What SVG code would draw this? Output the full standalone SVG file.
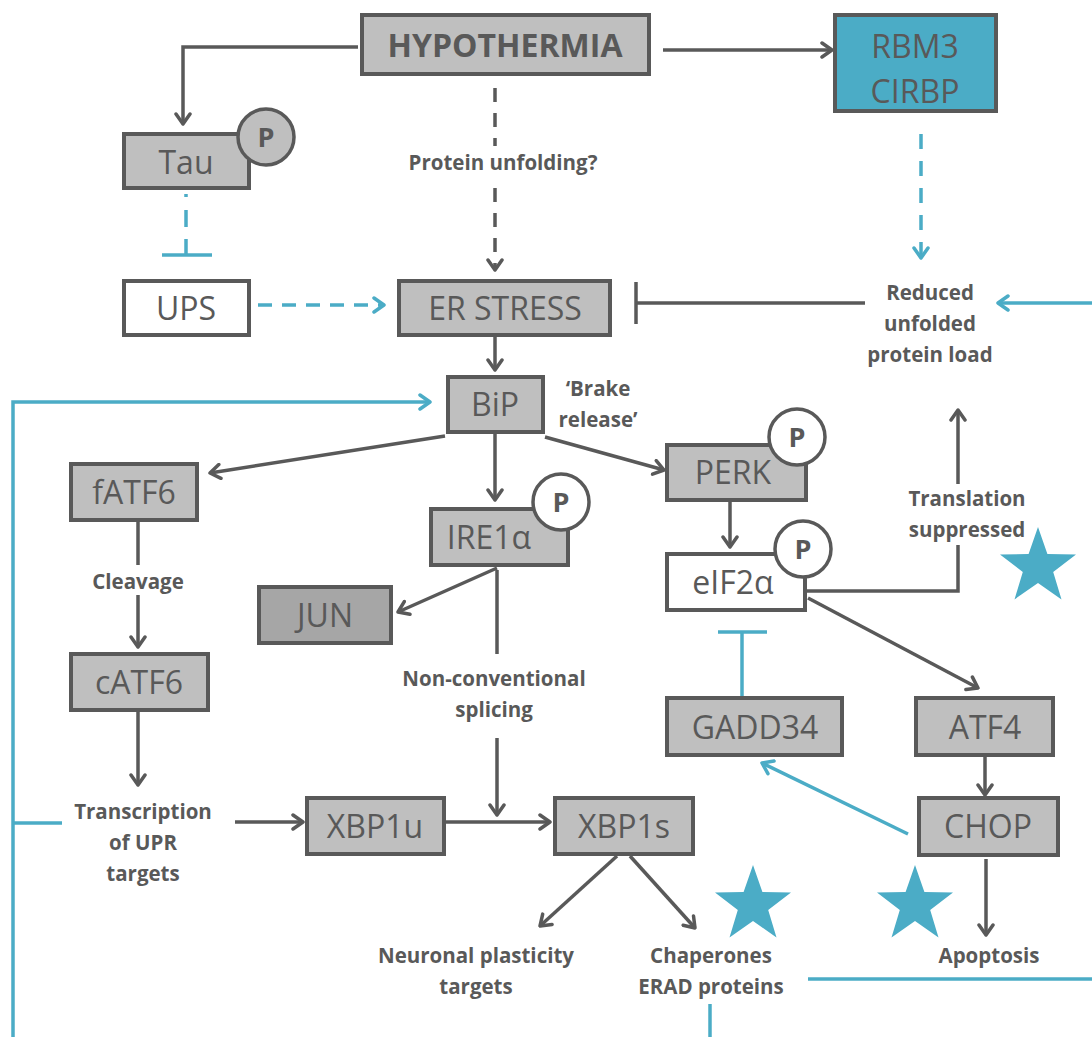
<svg xmlns="http://www.w3.org/2000/svg" width="1092" height="1037" viewBox="0 0 1092 1037">
  <defs>
    <style>
      .box{fill:#bfbfbf;stroke:#595959;stroke-width:4}
      .wbox{fill:#ffffff;stroke:#595959;stroke-width:4}
      .dbox{fill:#a6a6a6;stroke:#595959;stroke-width:4}
      .tbox{fill:#4bacc6;stroke:#595959;stroke-width:4}
      .pc{fill:#ffffff;stroke:#595959;stroke-width:3.5}
      .pcg{fill:#bfbfbf;stroke:#595959;stroke-width:3.5}
      .nt{font-family:"Open Sans","Noto Sans",sans-serif;font-size:32px;fill:#595959;text-anchor:middle}
      .bt{font-family:"Open Sans","Noto Sans",sans-serif;font-size:20.5px;font-weight:bold;fill:#595959;text-anchor:middle}
      .pt{font-family:"Open Sans","Noto Sans",sans-serif;font-size:27px;font-weight:bold;fill:#595959;text-anchor:middle}
      .g{fill:none;stroke:#595959;stroke-width:3.5}
      .c{fill:none;stroke:#4bacc6;stroke-width:3.5}
      .star{fill:#4bacc6}
    </style>
    <marker id="ag" viewBox="0 0 14 18" refX="12" refY="9" markerWidth="14" markerHeight="18" orient="auto" markerUnits="userSpaceOnUse">
      <path d="M2,2 L12,9 L2,16" fill="none" stroke="#595959" stroke-width="3.5" stroke-linecap="round" stroke-linejoin="round"/>
    </marker>
    <marker id="ac" viewBox="0 0 14 18" refX="12" refY="9" markerWidth="14" markerHeight="18" orient="auto" markerUnits="userSpaceOnUse">
      <path d="M2,2 L12,9 L2,16" fill="none" stroke="#4bacc6" stroke-width="3.5" stroke-linecap="round" stroke-linejoin="round"/>
    </marker>
    <polygon id="starShape" points="0,-40 9.4,-12.9 38,-12.4 15.2,4.9 23.5,32.4 0,16 -23.5,32.4 -15.2,4.9 -38,-12.4 -9.4,-12.9"/>
  </defs>

  <rect width="1092" height="1037" fill="#ffffff"/>

  <!-- connectors -->
  <g id="connectors">
    <!-- hypothermia branches -->
    <polyline class="g" points="358,47 183,47 183,124" marker-end="url(#ag)"/>
    <line class="g" x1="663" y1="50" x2="832" y2="50" marker-end="url(#ag)"/>
    <line class="g" x1="495" y1="88" x2="495" y2="270" stroke-dasharray="14 11" marker-end="url(#ag)"/>
    <line class="c" x1="921" y1="134" x2="921" y2="258" stroke-dasharray="15 12" marker-end="url(#ac)"/>
    <!-- tau inhibits UPS -->
    <line class="c" x1="186" y1="194" x2="186" y2="255" stroke-dasharray="3 13 17 12 20"/>
    <line class="c" x1="162" y1="255" x2="212" y2="255"/>
    <!-- UPS to ER stress -->
    <line class="c" x1="258" y1="305" x2="384" y2="305" stroke-dasharray="14 10" marker-end="url(#ac)"/>
    <!-- reduced load inhibits ER stress -->
    <line class="g" x1="865" y1="303" x2="636" y2="303"/>
    <line class="g" x1="636" y1="282" x2="636" y2="324"/>
    <line class="c" x1="1092" y1="303" x2="998" y2="303" marker-end="url(#ac)"/>
    <!-- ER stress to BiP -->
    <line class="g" x1="495" y1="337" x2="495" y2="370" marker-end="url(#ag)"/>
    <!-- feedback loop on left -->
    <polyline class="c" points="13,1037 13,402 430,402" marker-end="url(#ac)"/>
    <line class="c" x1="13" y1="823" x2="62" y2="823"/>
    <!-- BiP branches -->
    <line class="g" x1="445" y1="436" x2="210" y2="473" marker-end="url(#ag)"/>
    <line class="g" x1="495" y1="432" x2="495" y2="500" marker-end="url(#ag)"/>
    <line class="g" x1="545" y1="437" x2="664" y2="470" marker-end="url(#ag)"/>
    <!-- ATF6 arm -->
    <line class="g" x1="138" y1="521" x2="138" y2="565"/>
    <line class="g" x1="138" y1="595" x2="138" y2="647" marker-end="url(#ag)"/>
    <line class="g" x1="138" y1="711" x2="138" y2="785" marker-end="url(#ag)"/>
    <line class="g" x1="235" y1="822" x2="303" y2="822" marker-end="url(#ag)"/>
    <!-- IRE1 arm -->
    <line class="g" x1="497" y1="568" x2="398" y2="612" marker-end="url(#ag)"/>
    <line class="g" x1="497" y1="570" x2="497" y2="654"/>
    <line class="g" x1="497" y1="738" x2="497" y2="815" marker-end="url(#ag)"/>
    <line class="g" x1="446" y1="822" x2="550" y2="822" marker-end="url(#ag)"/>
    <line class="g" x1="617" y1="856" x2="540" y2="926" marker-end="url(#ag)"/>
    <line class="g" x1="630" y1="856" x2="695" y2="928" marker-end="url(#ag)"/>
    <!-- PERK arm -->
    <line class="g" x1="730" y1="501" x2="730" y2="547" marker-end="url(#ag)"/>
    <polyline class="g" points="807,591 958,591 958,545"/>
    <line class="g" x1="958" y1="484" x2="958" y2="410" marker-end="url(#ag)"/>
    <line class="g" x1="808" y1="598" x2="978" y2="688" marker-end="url(#ag)"/>
    <line class="g" x1="985" y1="756" x2="985" y2="795" marker-end="url(#ag)"/>
    <line class="g" x1="986" y1="859" x2="986" y2="935" marker-end="url(#ag)"/>
    <line class="c" x1="742" y1="697" x2="742" y2="632"/>
    <line class="c" x1="718" y1="632" x2="767" y2="632"/>
    <line class="c" x1="908" y1="834" x2="762" y2="763" marker-end="url(#ac)"/>
    <!-- outgoing feedback lines at the bottom -->
    <line class="c" x1="710" y1="1004" x2="710" y2="1037"/>
    <line class="c" x1="808" y1="979" x2="1092" y2="979"/>
  </g>

  <!-- nodes -->
  <g id="hypothermia">
    <rect class="box" x="362" y="15" width="287" height="59"/>
    <text class="nt" x="505" y="57" font-weight="bold" font-size="33.5">HYPOTHERMIA</text>
  </g>
  <g id="rbm3-cirbp">
    <rect class="tbox" x="835" y="15" width="161" height="96"/>
    <text class="nt" x="915" y="58">RBM3</text>
    <text class="nt" x="915" y="103">CIRBP</text>
  </g>
  <g id="tau">
    <rect class="box" x="124" y="134" width="125" height="54"/>
    <text class="nt" x="186" y="174">Tau</text>
    <circle class="pcg" cx="266" cy="137" r="28"/>
    <text class="pt" x="266" y="147">P</text>
  </g>
  <g id="protein-unfolding">
    <rect x="396" y="146" width="216" height="34" fill="#ffffff"/>
    <text class="bt" x="503" y="170">Protein unfolding?</text>
  </g>
  <g id="ups">
    <rect class="wbox" x="124" y="281" width="125" height="54"/>
    <text class="nt" x="186" y="320">UPS</text>
  </g>
  <g id="er-stress">
    <rect class="box" x="399" y="281" width="211" height="54"/>
    <text class="nt" x="505" y="320">ER STRESS</text>
  </g>
  <g id="reduced-load">
    <text class="bt" x="930" y="300">Reduced</text>
    <text class="bt" x="930" y="331">unfolded</text>
    <text class="bt" x="930" y="362">protein load</text>
  </g>
  <g id="bip">
    <rect class="box" x="448" y="377" width="95" height="55"/>
    <text class="nt" x="495" y="416">BiP</text>
  </g>
  <g id="brake-release">
    <text class="bt" x="598" y="396">‘Brake</text>
    <text class="bt" x="598" y="427">release’</text>
  </g>
  <g id="fatf6">
    <rect class="box" x="71" y="464" width="126" height="56"/>
    <text class="nt" x="134" y="504">fATF6</text>
  </g>
  <g id="cleavage">
    <text class="bt" x="138" y="589">Cleavage</text>
  </g>
  <g id="catf6">
    <rect class="box" x="71" y="654" width="137" height="56"/>
    <text class="nt" x="139" y="694">cATF6</text>
  </g>
  <g id="transcription">
    <text class="bt" x="143" y="819">Transcription</text>
    <text class="bt" x="143" y="850">of UPR</text>
    <text class="bt" x="143" y="881">targets</text>
  </g>
  <g id="ire1a">
    <rect class="box" x="431" y="509" width="137" height="56"/>
    <text class="nt" x="489" y="549">IRE1α</text>
    <circle class="pc" cx="561" cy="502" r="28"/>
    <text class="pt" x="561" y="512">P</text>
  </g>
  <g id="jun">
    <rect class="dbox" x="259" y="587" width="132" height="56"/>
    <text class="nt" x="325" y="627">JUN</text>
  </g>
  <g id="splicing">
    <text class="bt" x="494" y="686">Non-conventional</text>
    <text class="bt" x="494" y="717">splicing</text>
  </g>
  <g id="xbp1u">
    <rect class="box" x="307" y="798" width="137" height="56"/>
    <text class="nt" x="375" y="838">XBP1u</text>
  </g>
  <g id="xbp1s">
    <rect class="box" x="555" y="798" width="138" height="56"/>
    <text class="nt" x="624" y="838">XBP1s</text>
  </g>
  <g id="neuronal">
    <text class="bt" x="476" y="963">Neuronal plasticity</text>
    <text class="bt" x="476" y="994">targets</text>
  </g>
  <g id="chaperones">
    <text class="bt" x="711" y="963">Chaperones</text>
    <text class="bt" x="711" y="994">ERAD proteins</text>
  </g>
  <g id="perk">
    <rect class="box" x="667" y="445" width="139" height="55"/>
    <text class="nt" x="733" y="484">PERK</text>
    <circle class="pc" cx="797" cy="437" r="28"/>
    <text class="pt" x="797" y="447">P</text>
  </g>
  <g id="eif2a">
    <rect class="wbox" x="667" y="554" width="138" height="56"/>
    <text class="nt" x="733" y="594">eIF2α</text>
    <circle class="pc" cx="803" cy="549" r="28"/>
    <text class="pt" x="803" y="559">P</text>
  </g>
  <g id="translation">
    <text class="bt" x="967" y="506">Translation</text>
    <text class="bt" x="967" y="537">suppressed</text>
  </g>
  <g id="gadd34">
    <rect class="box" x="667" y="698" width="175" height="57"/>
    <text class="nt" x="755" y="739">GADD34</text>
  </g>
  <g id="atf4">
    <rect class="box" x="916" y="698" width="137" height="57"/>
    <text class="nt" x="985" y="739">ATF4</text>
  </g>
  <g id="chop">
    <rect class="box" x="919" y="798" width="139" height="57"/>
    <text class="nt" x="988" y="838">CHOP</text>
  </g>
  <g id="apoptosis">
    <text class="bt" x="989" y="963">Apoptosis</text>
  </g>
  <g id="stars">
    <use href="#starShape" class="star" x="753" y="905"/>
    <use href="#starShape" class="star" x="915" y="905"/>
    <use href="#starShape" class="star" x="1038" y="567"/>
  </g>
</svg>
